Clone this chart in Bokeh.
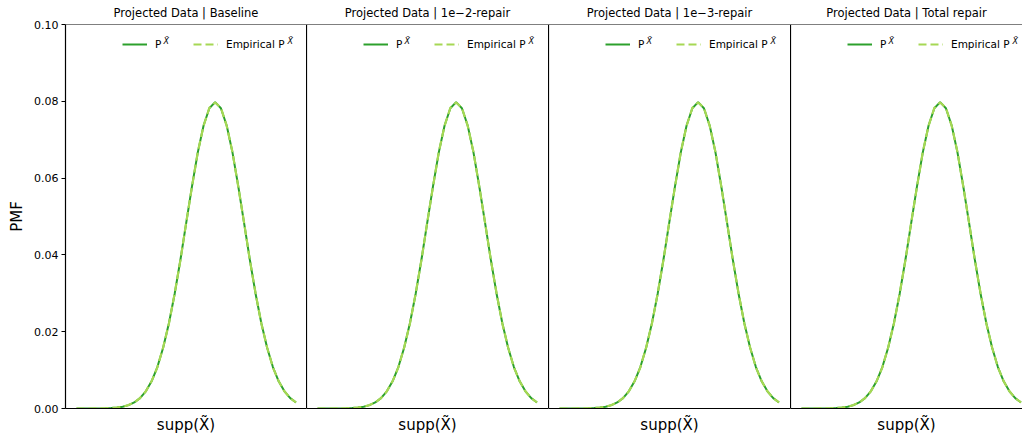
from bokeh.plotting import figure
from bokeh.layouts import row
from bokeh.models import (FixedTicker, PrintfTickFormatter, Legend, LegendItem,
                          Label, Span, Range1d)
from bokeh.embed import file_html
from bokeh.resources import INLINE

# ---------------- data ----------------
titles = ["Projected Data | Baseline",
          "Projected Data | 1e\u22122-repair",
          "Projected Data | 1e\u22123-repair",
          "Projected Data | Total repair"]

support = list(range(39))

pmf_true = [0.0000008, 0.000002, 0.000005, 0.0000118, 0.0000268, 0.0000584,
            0.000123, 0.000247, 0.000477, 0.000887, 0.00158, 0.00271,
            0.00448, 0.00709, 0.0108, 0.0158, 0.0222, 0.0299,
            0.0388, 0.0484, 0.0579, 0.0667, 0.0737, 0.0782,
            0.0798, 0.0782, 0.0737, 0.0667, 0.0579, 0.0484,
            0.0388, 0.0299, 0.0222, 0.0158, 0.0108, 0.00709,
            0.00448, 0.00271, 0.00158]

pmf_emp = [0.0000010, 0.000002, 0.000006, 0.0000120, 0.0000270, 0.0000590,
           0.000125, 0.000245, 0.000480, 0.000890, 0.00157, 0.00272,
           0.00447, 0.00711, 0.0107, 0.0159, 0.0221, 0.0300,
           0.0387, 0.0485, 0.0578, 0.0668, 0.0736, 0.0783,
           0.0797, 0.0783, 0.0736, 0.0668, 0.0578, 0.0485,
           0.0387, 0.0300, 0.0221, 0.0159, 0.0107, 0.00711,
           0.00447, 0.00272, 0.00157]

y_ticks = [0.0, 0.02, 0.04, 0.06, 0.08, 0.10]
y_max = 0.10

legend_labels = ["P", "Empirical P"]
superscript = "X\u0303"
x_label = "supp(X\u0303)"
y_label = "PMF"

# ---------------- style ----------------
FONT = "DejaVu Sans"
C_TRUE = "#2ca02c"
C_EMP = "#a6d854"

x_lo, x_hi_full = -1.9, 39.9
frame_w = [241, 242, 242, 232]
px_per_unit = 241.5 / (x_hi_full - x_lo)
TOP, BOTTOM, LEFT0 = 24, 28, 65
H = 436


def make_panel(i):
    first = i == 0
    fw = frame_w[i]
    left = LEFT0 if first else 0
    x_hi = x_lo + fw / px_per_unit
    p = figure(width=left + fw, height=H,
               x_range=Range1d(x_lo, x_hi), y_range=Range1d(0, y_max),
               output_backend="svg", toolbar_location=None,
               min_border_left=left, min_border_right=0,
               min_border_top=TOP, min_border_bottom=BOTTOM)
    p.outline_line_color = None
    p.grid.visible = False
    p.background_fill_color = "white"
    p.border_fill_color = "white"

    # title
    p.title.text = titles[i]
    p.title.align = "center"
    p.title.vertical_align = "middle"
    p.title.text_font = FONT
    p.title.text_font_size = "11.5px"
    p.title.text_font_style = "normal"
    p.title.text_color = "black"
    p.title.standoff = 7

    # x axis
    xa = p.xaxis[0]
    xa.ticker = FixedTicker(ticks=[])
    xa.major_tick_out = 0
    xa.major_tick_in = 0
    xa.minor_tick_out = 0
    xa.minor_tick_in = 0
    xa.axis_line_color = "black"
    xa.axis_line_width = 1.2
    xa.axis_label = x_label
    xa.axis_label_text_font = FONT
    xa.axis_label_text_font_size = "15px"
    xa.axis_label_text_font_style = "normal"
    xa.axis_label_text_color = "black"
    xa.axis_label_standoff = 7

    # y axis
    ya = p.yaxis[0]
    ya.axis_line_color = "black"
    ya.axis_line_width = 1.2
    ya.minor_tick_out = 0
    ya.minor_tick_in = 0
    if first:
        ya.ticker = FixedTicker(ticks=y_ticks)
        ya.formatter = PrintfTickFormatter(format="%.2f")
        ya.major_tick_out = 4
        ya.major_tick_in = 0
        ya.major_tick_line_color = "black"
        ya.major_tick_line_width = 1
        ya.major_label_standoff = 3
        ya.major_label_text_font = FONT
        ya.major_label_text_font_size = "11px"
        ya.major_label_text_color = "black"
        ya.axis_label = y_label
        ya.axis_label_text_font = FONT
        ya.axis_label_text_font_size = "15px"
        ya.axis_label_text_font_style = "normal"
        ya.axis_label_text_color = "black"
        ya.axis_label_standoff = 5
    else:
        ya.ticker = FixedTicker(ticks=[])
        ya.major_tick_out = 0
        ya.major_tick_in = 0

    # top frame line
    p.add_layout(Span(location=y_max, dimension="width",
                      line_color="black", line_width=1.2))

    r1 = p.line(support, pmf_true, line_color=C_TRUE, line_width=2)
    r2 = p.line(support, pmf_emp, line_color=C_EMP, line_width=2.2,
                line_dash="8 4")

    legend = Legend(items=[LegendItem(label=legend_labels[0], renderers=[r1]),
                           LegendItem(label=legend_labels[1], renderers=[r2])],
                    location=(57, 354), orientation="horizontal",
                    padding=0, margin=0, spacing=18,
                    glyph_width=25, glyph_height=20,
                    label_width=20, label_height=20, label_standoff=8,
                    label_text_font=FONT, label_text_font_size="10.5px",
                    label_text_color="black",
                    border_line_color=None, background_fill_alpha=0)
    p.add_layout(legend)

    for sx in (98, 222):
        p.add_layout(Label(x=sx, y=367, x_units="screen", y_units="screen",
                           text=superscript, text_font=FONT,
                           text_font_size="8px", text_font_style="italic",
                           text_color="black", text_baseline="alphabetic"))
    return p


panels = [make_panel(i) for i in range(4)]
layout = row(*panels)

open("out.html", "w").write(file_html(layout, INLINE))
